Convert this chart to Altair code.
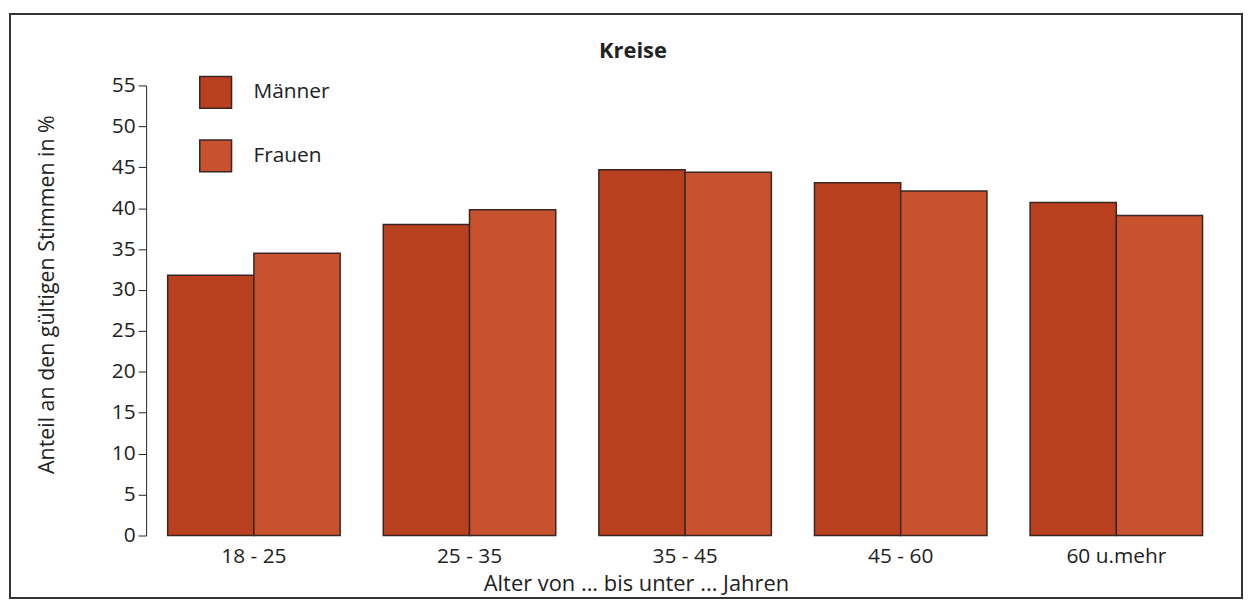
import altair as alt
import pandas as pd

groups = ["18 - 25", "25 - 35", "35 - 45", "45 - 60", "60 u.mehr"]
maenner = [31.8, 38.0, 44.7, 43.1, 40.7]
frauen = [34.5, 39.8, 44.4, 42.1, 39.1]
series = ["Männer", "Frauen"]
colors = ["#b8401f", "#c9522e"]
chart_title = "Kreise"

rows = []
for g, m, f in zip(groups, maenner, frauen):
    rows.append({"Alter": g, "Geschlecht": "Männer", "Wert": m})
    rows.append({"Alter": g, "Geschlecht": "Frauen", "Wert": f})
df = pd.DataFrame(rows)

FONT = "Open Sans"
TXT = "#222222"

frame = alt.Chart(pd.DataFrame({"a": [0]})).mark_rect(
    filled=False, stroke="#333333", strokeWidth=2
).encode(
    x=alt.value(-137), x2=alt.value(1103), y=alt.value(-72), y2=alt.value(516)
)

title = alt.Chart(pd.DataFrame({"t": [chart_title]})).mark_text(
    font=FONT, fontSize=22, fontWeight="bold", color=TXT, baseline="middle", align="center"
).encode(
    text="t:N", x=alt.value(490), y=alt.value(-35)
)

bars = alt.Chart(df).mark_bar(stroke="#3a2622", strokeWidth=1.5).encode(
    x=alt.X("Alter:N", sort=groups,
            scale=alt.Scale(paddingInner=0.2, paddingOuter=0.1),
            axis=alt.Axis(title="Alter von ... bis unter ... Jahren", labelAngle=0,
                          domain=False, ticks=False, labelPadding=10,
                          labelFontSize=21, titleFontSize=22, titleFontWeight="normal",
                          titleX=493, titleY=48, titleBaseline="middle",
                          labelColor=TXT, titleColor=TXT,
                          labelFont=FONT, titleFont=FONT)),
    xOffset=alt.XOffset("Geschlecht:N", sort=series,
                        scale=alt.Scale(paddingInner=0, paddingOuter=0)),
    y=alt.Y("Wert:Q", scale=alt.Scale(domain=[0, 55], nice=False),
            axis=alt.Axis(title="Anteil an den gültigen Stimmen in %",
                          values=list(range(0, 60, 5)), grid=False,
                          domainColor=TXT, tickColor=TXT,
                          tickSize=8, labelPadding=3, labelFontSize=21,
                          titleFontSize=21.5, titleFontWeight="normal",
                          titleX=-99, titleY=210, titleBaseline="middle",
                          labelColor=TXT, titleColor=TXT,
                          labelFont=FONT, titleFont=FONT)),
    color=alt.Color("Geschlecht:N", sort=series,
                    scale=alt.Scale(domain=series, range=colors),
                    legend=alt.Legend(title=None, orient="none", legendX=53, legendY=-10,
                                      symbolType="square", symbolSize=1024,
                                      symbolStrokeColor="#3a2622", symbolStrokeWidth=1.5,
                                      symbolOpacity=1,
                                      labelFontSize=21, labelFont=FONT, labelColor=TXT,
                                      labelOffset=21, rowPadding=26)),
)

chart = alt.layer(frame, title, bars).properties(
    width=1085, height=453,
    autosize=alt.AutoSizeParams(type="none"),
    padding={"left": 139, "top": 76, "right": 20, "bottom": 65},
    background="white",
).configure_view(stroke=None)

chart.save("out.html", embed_options={"renderer": "svg", "actions": False})
